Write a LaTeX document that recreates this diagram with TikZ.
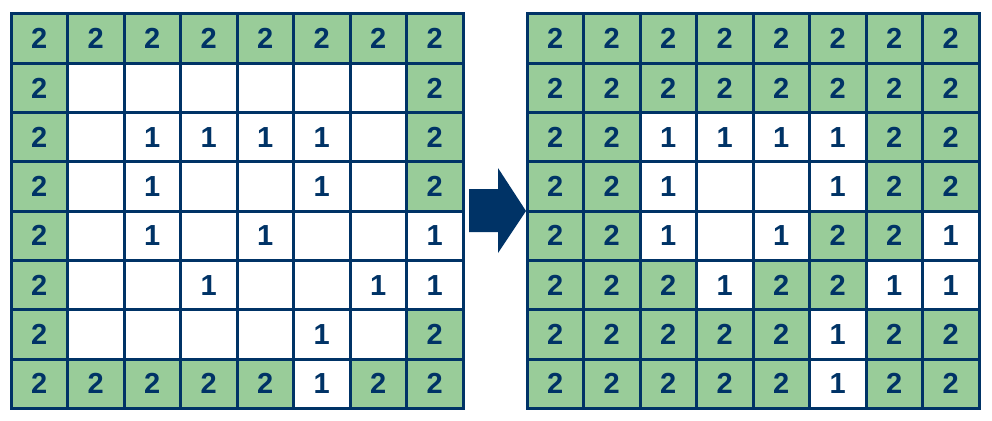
\documentclass[tikz,border=0pt]{standalone}
\usepackage{fontspec}
\setmainfont{Liberation Sans}
\definecolor{navy}{HTML}{003366}
\definecolor{cellgreen}{HTML}{99CC99}
\tikzset{
  cellbox/.style={draw=navy, line width=3pt, rectangle, inner sep=0pt, outer sep=0pt,
    minimum width=56.5pt, minimum height=49.3pt, text=navy,
    font=\fontsize{29}{29}\selectfont\bfseries},
  v0/.style={fill=white},
  v1/.style={fill=white},
  v2/.style={fill=cellgreen},
  bigarrow/.style={fill=navy, draw=none}
}
\begin{document}
\begin{tikzpicture}[x=1pt,y=-1pt]
\useasboundingbox (0,0) rectangle (992,420);
% left grid
\foreach \row [count=\r] in {
  {2,2,2,2,2,2,2,2},
  {2,0,0,0,0,0,0,2},
  {2,0,1,1,1,1,0,2},
  {2,0,1,0,0,1,0,2},
  {2,0,1,0,1,0,0,1},
  {2,0,0,1,0,0,1,1},
  {2,0,0,0,0,1,0,2},
  {2,2,2,2,2,1,2,2}} {
  \foreach \v [count=\c] in \row {
    \node[cellbox, v\v] (L-\r-\c) at ({11+56.5*(\c-0.5)},{14+49.3*(\r-0.5)})
      {\ifnum\v=0\relax\else\v\fi};
  }
}
% right grid
\foreach \row [count=\r] in {
  {2,2,2,2,2,2,2,2},
  {2,2,2,2,2,2,2,2},
  {2,2,1,1,1,1,2,2},
  {2,2,1,0,0,1,2,2},
  {2,2,1,0,1,2,2,1},
  {2,2,2,1,2,2,1,1},
  {2,2,2,2,2,1,2,2},
  {2,2,2,2,2,1,2,2}} {
  \foreach \v [count=\c] in \row {
    \node[cellbox, v\v] (R-\r-\c) at ({527+56.5*(\c-0.5)},{14+49.3*(\r-0.5)})
      {\ifnum\v=0\relax\else\v\fi};
  }
}
% arrow
\fill[bigarrow] (469,189) -- (498,189) -- (498,168) -- (526,211) -- (498,253)
  -- (498,232) -- (469,232) -- cycle;
\end{tikzpicture}
\end{document}
